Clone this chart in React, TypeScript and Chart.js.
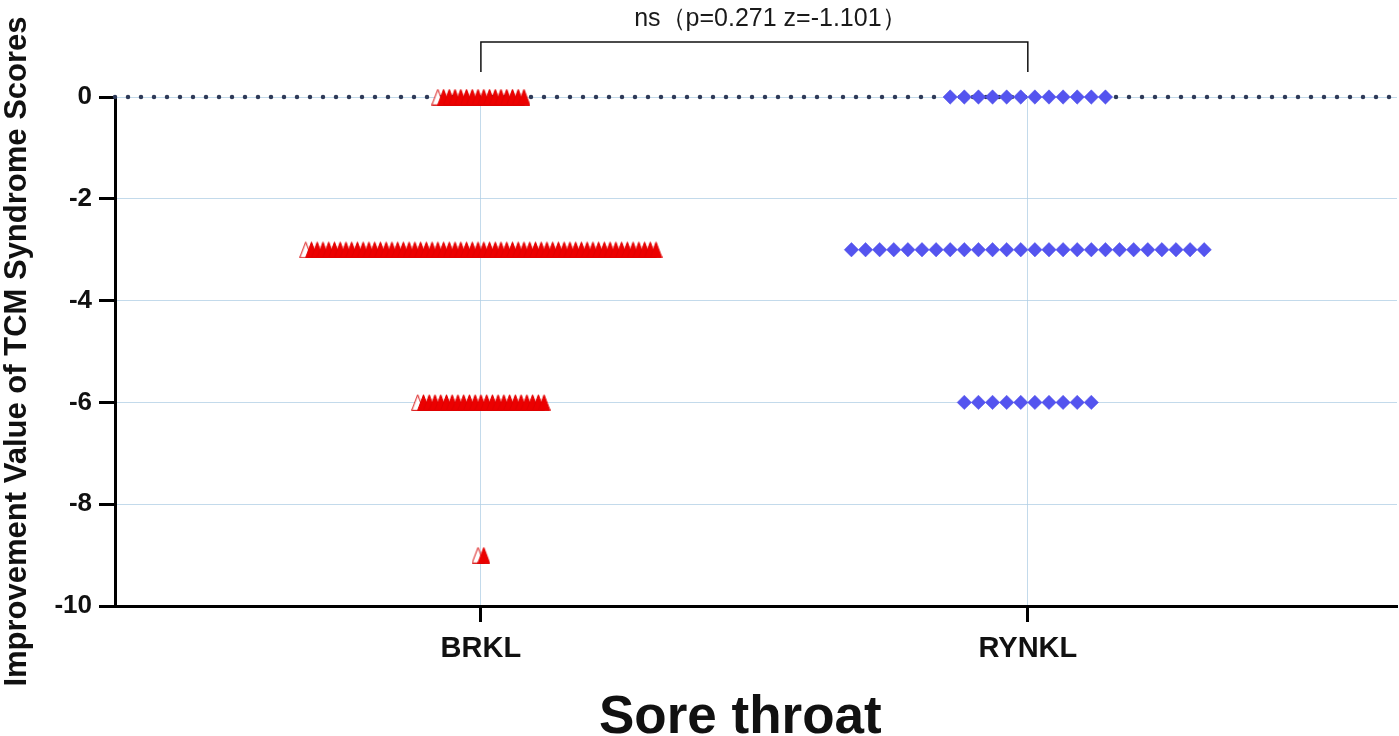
import { useEffect, useRef } from "react"
import { Chart, registerables } from "chart.js"

Chart.register(...registerables)

// group names on the x axis (positions 1 and 2)
const categories = ["BRKL", "RYNKL"]

// score levels and how many patients sit on each one
const brklLevels = [0, -3, -6, -9]
const brklCounts = [16, 62, 23, 2]
const ryklLevels = [0, -3, -6]
const ryklCounts = [12, 26, 10]

const yMin = -10
const yMax = 0
const yStep = 2

const X_MIN = 0.331
const X_MAX = 2.675

const FONT = "'Liberation Sans', Arial, sans-serif"
const GRID = "rgba(175, 205, 228, 0.75)"

type Pt = { x: number; y: number; first: boolean }

// lay each level out as a row of markers centred on the group
function spread(pos: number, levels: number[], counts: number[], step: number): Pt[] {
  const pts: Pt[] = []
  levels.forEach((lv, k) => {
    const n = counts[k]
    for (let i = 0; i < n; i++) {
      pts.push({ x: pos + (i - (n - 1) / 2) * step, y: lv, first: i === 0 })
    }
  })
  return pts
}

function makeTriangle(fill: string, stroke: string) {
  const c = document.createElement("canvas")
  c.width = 13
  c.height = 17
  const g = c.getContext("2d")!
  g.beginPath()
  g.moveTo(6.5, 0.8)
  g.lineTo(12.4, 16.4)
  g.lineTo(0.6, 16.4)
  g.closePath()
  g.fillStyle = fill
  g.fill()
  g.strokeStyle = stroke
  g.lineWidth = 1
  g.stroke()
  return c
}

const annotatePlugin = {
  id: "annotate",
  afterDraw(chart: any) {
    const { ctx, chartArea } = chart
    const xs = chart.scales.x
    const x1 = xs.getPixelForValue(1)
    const x2 = xs.getPixelForValue(2)
    const yTop = chartArea.top - 55
    const yLeg = chartArea.top - 25
    ctx.save()
    ctx.strokeStyle = "#111"
    ctx.lineWidth = 1.5
    ctx.beginPath()
    ctx.moveTo(x1, yLeg)
    ctx.lineTo(x1, yTop)
    ctx.lineTo(x2, yTop)
    ctx.lineTo(x2, yLeg)
    ctx.stroke()
    ctx.fillStyle = "#1a1a1a"
    ctx.font = `25px ${FONT}`
    ctx.textAlign = "center"
    ctx.textBaseline = "middle"
    ctx.fillText("ns（p=0.271 z=-1.101）", (x1 + x2) / 2 + 16, yTop - 23)

    // x-axis title
    ctx.fillStyle = "#111"
    ctx.font = `bold 53px ${FONT}`
    ctx.fillText("Sore throat", (x1 + x2) / 2 - 14, chartArea.bottom + 112)
    ctx.restore()
  },
}

function SwarmChart() {
  const chartRef = useRef<HTMLCanvasElement>(null)
  const chartInstance = useRef<Chart | null>(null)

  useEffect(() => {
    if (!chartRef.current) return
    if (chartInstance.current) chartInstance.current.destroy()

    const solid = makeTriangle("#EC0000", "#E00000")
    const hollow = makeTriangle("#FFFFFF", "#D81010")

    const brklPts = spread(1, brklLevels, brklCounts, 0.0105)
    const ryklPts = spread(2, ryklLevels, ryklCounts, 0.0258)

    const ctx = chartRef.current.getContext("2d")
    if (!ctx) return

    chartInstance.current = new Chart(ctx, {
      type: "scatter",
      data: {
        datasets: [
          {
            label: "BRKL",
            data: brklPts,
            pointStyle: (c: any) => (c.raw && c.raw.first ? hollow : solid),
            pointRadius: 7,
            clip: false,
          } as any,
          {
            label: "RYNKL",
            data: ryklPts,
            pointStyle: "rectRot",
            pointRadius: 7.2,
            backgroundColor: "#5454EF",
            borderColor: "#5050E8",
            borderWidth: 0.5,
            clip: false,
          } as any,
          {
            label: "zero",
            data: [
              { x: X_MIN, y: 0 },
              { x: X_MAX, y: 0 },
            ],
            showLine: true,
            borderColor: "#2E3A58",
            borderWidth: 4.5,
            borderDash: [0, 13],
            borderDashOffset: -13,
            borderCapStyle: "round",
            pointRadius: 0,
            clip: false,
          } as any,
        ],
      },
      options: {
        animation: false,
        responsive: true,
        maintainAspectRatio: false,
        events: [],
        layout: { padding: { top: 97, right: 0, left: 0, bottom: 0 } },
        plugins: {
          legend: { display: false },
          tooltip: { enabled: false },
        },
        scales: {
          x: {
            type: "linear",
            min: X_MIN,
            max: X_MAX,
            afterBuildTicks: (scale: any) => {
              scale.ticks = [{ value: 1 }, { value: 2 }]
            },
            afterFit: (scale: any) => {
              scale.height = 130
            },
            ticks: {
              callback: (_v: any, i: number) => categories[i],
              color: "#111",
              font: { family: FONT, size: 29, weight: "bold", lineHeight: 1.2 },
              padding: 10,
              maxRotation: 0,
            },
            grid: {
              color: GRID,
              lineWidth: 1,
              tickLength: 16,
              tickColor: "#000",
              tickWidth: 3,
            },
            border: { color: "#000", width: 3 },
          },
          y: {
            min: yMin,
            max: yMax,
            afterFit: (scale: any) => {
              scale.width = 115
            },
            ticks: {
              stepSize: yStep,
              color: "#111",
              font: { family: FONT, size: 26, weight: "bold" },
              padding: 7,
            },
            grid: {
              color: GRID,
              lineWidth: 1,
              tickLength: 16,
              tickColor: "#000",
              tickWidth: 3,
            },
            border: { color: "#000", width: 3 },
            title: {
              display: true,
              text: "Improvement Value of TCM Syndrome Scores",
              color: "#111",
              font: { family: FONT, size: 31, weight: "bold", lineHeight: 1 },
              padding: { top: 2, bottom: 0 },
            },
          },
        },
      } as any,
      plugins: [annotatePlugin],
    })

    return () => {
      if (chartInstance.current) {
        chartInstance.current.destroy()
        chartInstance.current = null
      }
    }
  }, [])

  return <canvas ref={chartRef} />
}

export default function App() {
  return (
    <div
      style={{
        position: "absolute",
        left: 0,
        top: 0,
        width: 1399,
        height: 736,
        overflow: "hidden",
        background: "#fff",
      }}
    >
      {/* a few px wider than the page so the plot's right edge lands at 1397 */}
      <div style={{ position: "relative", width: 1405, height: 736 }}>
        <SwarmChart />
      </div>
    </div>
  )
}
